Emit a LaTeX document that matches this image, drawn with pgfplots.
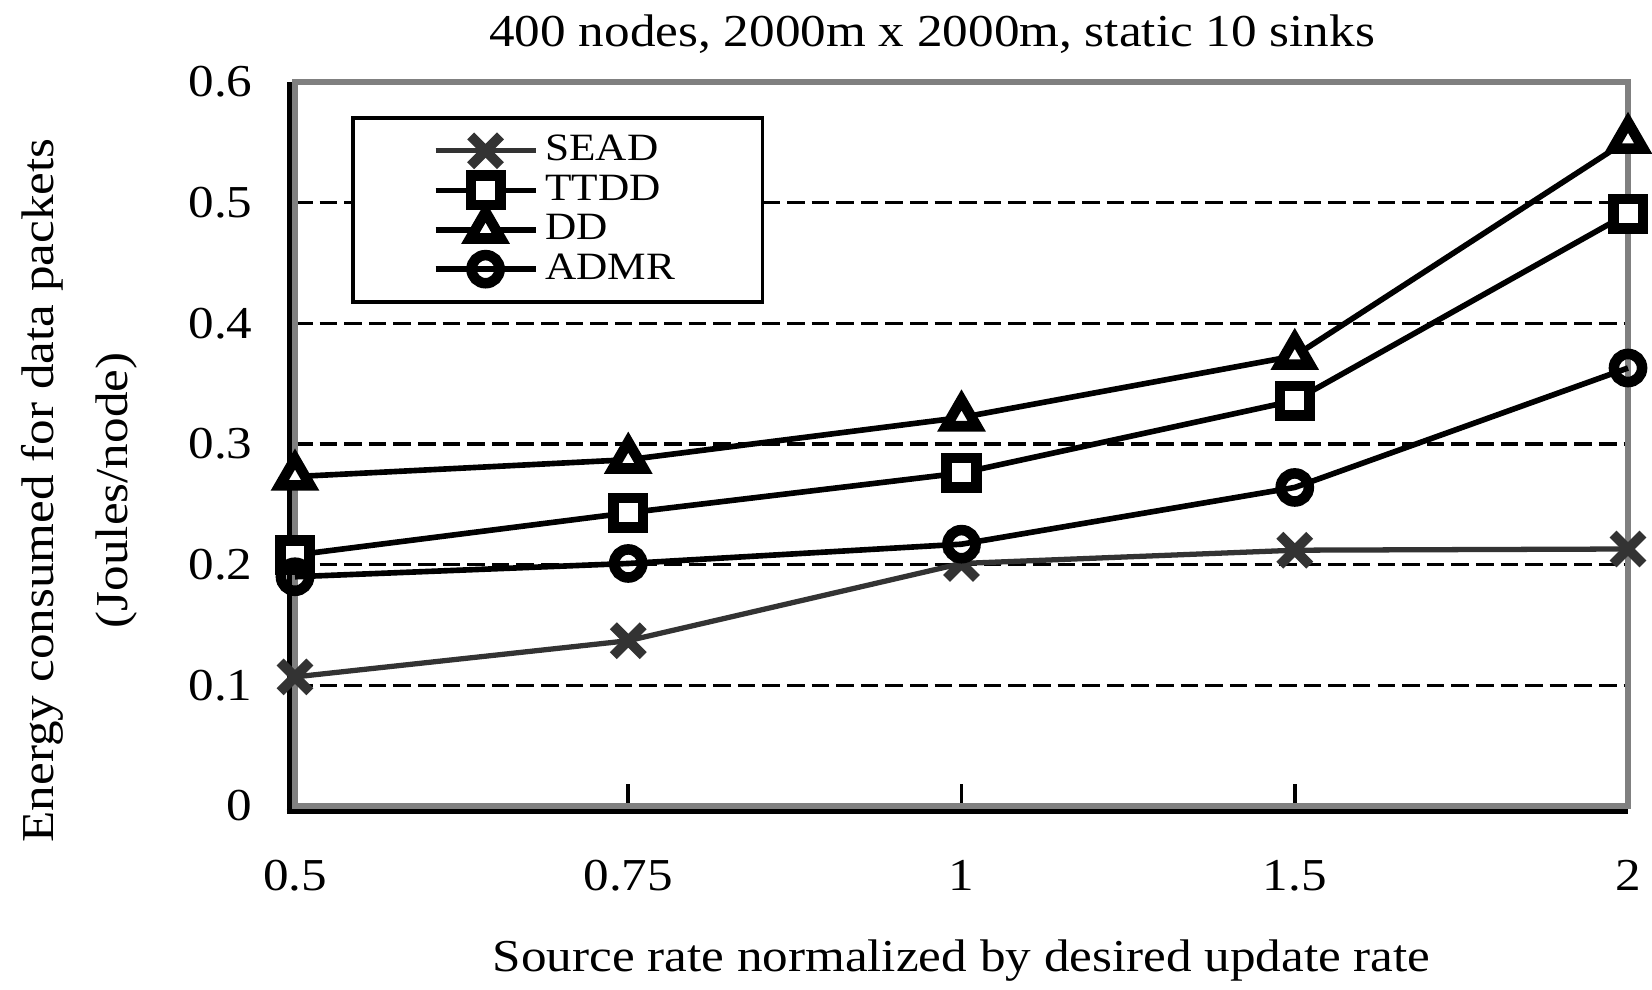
\documentclass[border=0pt]{standalone}
\usepackage{fontspec}
\setmainfont{Liberation Serif}[FakeStretch=1.12]
\usepackage{pgfplots}
\pgfplotsset{compat=1.18}
\definecolor{frame}{HTML}{808080}
\definecolor{sead}{HTML}{333333}
\begin{document}
\begin{tikzpicture}
\useasboundingbox (0,0) rectangle (16.52,9.89);
\begin{axis}[
  scale only axis, width=13.33cm, height=7.24cm,
  at={(2.95cm,1.83cm)}, anchor=south west,
  xmin=0, xmax=4, ymin=0, ymax=0.6,
  xtick={0,1,2,3,4}, xticklabels={0.5,0.75,1,1.5,2},
  ytick={0,0.1,0.2,0.3,0.4,0.5,0.6},
  yticklabels={0,0.1,0.2,0.3,0.4,0.5,0.6},
  xtick pos=bottom,
  tick align=inside, major tick length=0.22cm,
  xtick style={black, line width=1pt},
  ytick style={draw=none},
  axis line style={frame, line width=1.6pt},
  ymajorgrids, grid style={black, line width=1pt, dash pattern=on 5pt off 2pt},
  tick label style={font=\fontsize{13}{15}\selectfont},
  yticklabel style={xshift=-0.3cm},
  xticklabel style={yshift=-0.42cm},
  every axis title shift=0pt,
  title={400 nodes, 2000m x 2000m, static 10 sinks},
  title style={font=\fontsize{13}{15}\selectfont, at={(axis description cs:0.478,1.066)}, anchor=center},
  xlabel={Source rate normalized by desired update rate},
  xlabel style={font=\fontsize{13}{15}\selectfont, at={(axis description cs:0.5,-0.214)}, anchor=center},
  ylabel={Energy consumed for data packets\\(Joules/node)},
  ylabel style={font=\fontsize{13}{21}\selectfont, align=center, at={(axis description cs:-0.162,0.436)}, anchor=center, rotate=0},
  legend style={at={(axis description cs:0.042,0.953)}, anchor=north west, draw=black, line width=1pt,
    font=\fontsize{11}{10}\selectfont, inner xsep=0.8cm, inner ysep=3pt, row sep=-1.5pt,
    nodes={inner ysep=2pt}},
  legend cell align=left,
  legend image code/.code={\draw[mark repeat=2,mark phase=2,#1] plot coordinates {(0cm,0cm) (0.5cm,0cm) (1.0cm,0cm)};},
  clip=false,
]
\addplot[sead, line width=1.5pt, mark=x, mark size=6pt, mark options={line width=2.8pt}]
  coordinates {(0,0.107) (1,0.137) (2,0.201) (3,0.212) (4,0.213)};
\addlegendentry{SEAD}
\addplot[black, line width=1.6pt, mark=square*, mark size=4.2pt, mark options={fill=white, line width=3pt}]
  coordinates {(0,0.208) (1,0.243) (2,0.276) (3,0.336) (4,0.491)};
\addlegendentry{TTDD}
\addplot[black, line width=1.6pt, mark=triangle*, mark size=5pt, mark options={fill=white, line width=3pt}]
  coordinates {(0,0.273) (1,0.287) (2,0.322) (3,0.373) (4,0.552)};
\addlegendentry{DD}
\addplot[black, line width=1.6pt, mark=o, mark size=4pt, mark options={fill=white, line width=3pt}]
  coordinates {(0,0.190) (1,0.201) (2,0.217) (3,0.264) (4,0.363)};
\addlegendentry{ADMR}
\draw[black, line width=1.6pt] ([xshift=-1.6pt, yshift=-1.6pt]rel axis cs:0,0) -- ([xshift=-1.6pt]rel axis cs:0,1);
\draw[black, line width=1.6pt] ([xshift=-2.4pt, yshift=-1.6pt]rel axis cs:0,0) -- ([yshift=-1.6pt]rel axis cs:1,0);
\end{axis}
\end{tikzpicture}
\end{document}
